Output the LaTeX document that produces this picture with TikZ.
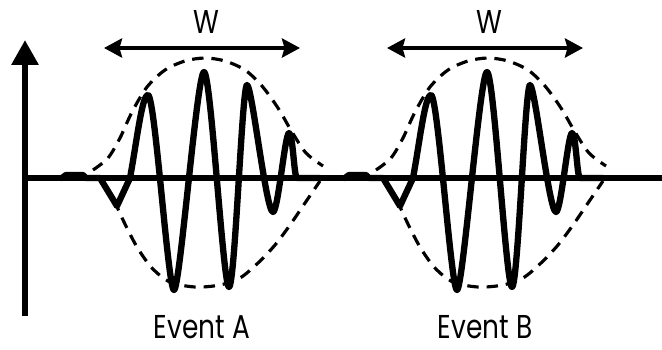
\documentclass[tikz,border=0pt]{standalone}
\usepackage{fontspec}
\setsansfont{Poppins}
\usetikzlibrary{arrows.meta}
\newcommand{\narrowtext}[1]{\scalebox{0.8}[1]{#1}}

\begin{document}
\begin{tikzpicture}[
  x=0.02cm, y=-0.02cm,
  axis/.style={line width=3.4pt},
  wave/.style={line width=3.6pt, line join=round, line cap=round},
  envelope/.style={line width=1.8pt, dash pattern=on 6.5pt off 4.5pt},
  span/.style={
    {Stealth[length=3.6mm,width=3.8mm,inset=0.5mm]}-{Stealth[length=3.6mm,width=3.8mm,inset=0.5mm]},
    line width=2.2pt
  },
  tag/.style={font=\sffamily\fontsize{18.8}{20}\selectfont, inner sep=0pt},
]
\useasboundingbox (0,0) rectangle (662,349);

% ---- axes --------------------------------------------------------------
\coordinate (origin) at (25,178);
\coordinate (ytop)   at (25,40);
\coordinate (ybot)   at (25,316);
\coordinate (xend)   at (662,178);

\draw[axis, -{Triangle[length=5mm,width=5.2mm]}] (ybot) -- (ytop);
\draw[axis] (origin) -- (xend);

% ---- the two events: same burst, shifted -------------------------------
\foreach \dx/\ev in {0/A, 283/B} {
  \begin{scope}[shift={(\dx,0)}]
    % envelope
    \draw[envelope] plot[smooth] coordinates {(93,170) (108,158) (120,138)
      (132,112) (147,87) (165,70) (185,61) (205,58) (225,61) (245,70)
      (262,86) (278,108) (292,132) (306,153) (323,166)};
    \draw[envelope] plot[smooth] coordinates {(114,200) (124,222) (137,247)
      (152,268) (170,282) (195,287) (220,285) (240,278) (258,263) (275,245)
      (290,225) (305,203) (320,181)};

    % burst
    \draw[wave] (62,178) -- (66,175) -- (83,175) -- (86,178) -- (100,178)
      -- (117,206) -- (130,178)
      .. controls (137,140) and (142,95) .. (148,95)
      .. controls (155,95) and (168,290) .. (174,290)
      .. controls (180,290) and (197,72) .. (204,72)
      .. controls (211,72) and (223,287) .. (229,287)
      .. controls (235,287) and (242,85) .. (247,85)
      .. controls (252,85) and (266,212) .. (273,212)
      .. controls (278,212) and (285,133) .. (289,133)
      .. controls (293,133) and (294,178) .. (297,178) -- (320,178);

    % width
    \coordinate (span-\ev-l) at (104,48);
    \coordinate (span-\ev-r) at (300,48);
    \draw[span] (span-\ev-l) -- (span-\ev-r);
    \node[tag] (w-\ev) at (206,22) {\narrowtext{W}};

    \node[tag] (event-\ev) at (202,327) {\narrowtext{Event \ev}};
  \end{scope}
}

\end{tikzpicture}
\end{document}
